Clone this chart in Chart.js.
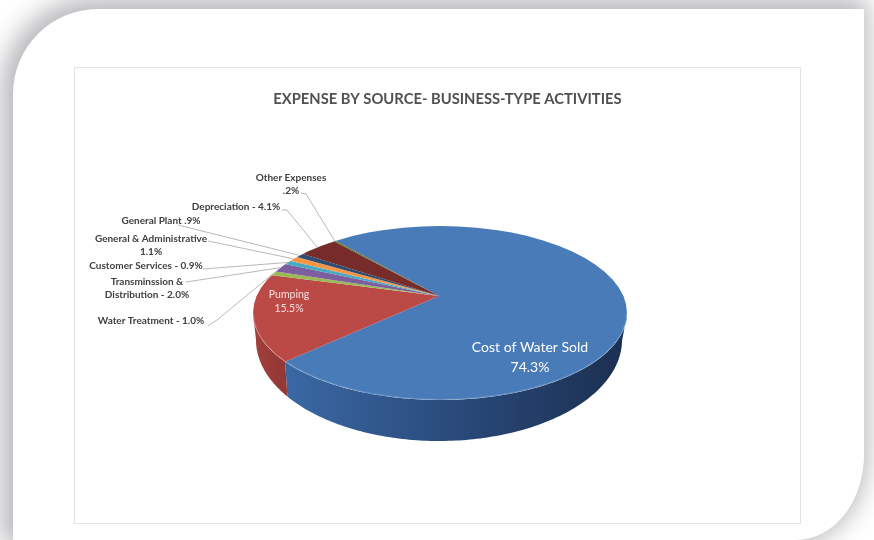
<!DOCTYPE html>
<html>
<head>
<meta charset="utf-8">
<title>Expense by Source</title>
<script src="https://cdn.jsdelivr.net/npm/chart.js@4"></script>
<style>
  html, body { margin: 0; padding: 0; background: #fff; overflow: hidden; }
  #page { position: relative; width: 874px; height: 540px; overflow: hidden; background: #fff; }
  #panel {
    position: absolute; left: 13px; top: 9px; width: 851px; height: 531px;
    background: #fff;
    border-radius: 85px 0 68px 0 / 85px 0 85px 0;
    box-shadow: -4px -3px 24px 8px rgba(100, 102, 108, 0.46);
  }
  #box { position: absolute; left: 74px; top: 67px; width: 725px; height: 455px; border: 1px solid #e4e4e4; }
  canvas { position: absolute; left: 0; top: 0; }
</style>
</head>
<body>
<div id="page">
  <div id="panel"></div>
  <div id="box"></div>
  <canvas id="expense-chart" width="874" height="540"></canvas>
</div>
<script>
// Valores do gráfico, no sentido horário a partir de "Cost of Water Sold"
const categories = ['Cost of Water Sold', 'Pumping', 'Water Treatment', 'Transmission & Distribution',
  'Customer Services', 'General & Administrative', 'General Plant', 'Depreciation', 'Other Expenses'];
const shares = [74.3, 15.5, 1.0, 2.0, 0.9, 1.1, 0.9, 4.1, 0.2];
const sliceColors = ['#487bb8', '#bb4a47', '#98b954', '#7d5fa0', '#46aac5', '#f79646', '#2c4d75', '#772c2a', '#5f7530'];
const chartTitle = 'EXPENSE BY SOURCE- BUSINESS-TYPE ACTIVITIES';

// Rótulos escritos como no gráfico original
const sliceText = [
  ['Cost of Water Sold', '74.3%'],
  ['Pumping', '15.5%'],
  ['Water Treatment - 1.0%'],
  ['Transminssion &', 'Distribution - 2.0%'],
  ['Customer Services - 0.9%'],
  ['General & Administrative', '1.1%'],
  ['General Plant .9%'],
  ['Depreciation - 4.1%'],
  ['Other Expenses', '.2%']
];

// Geometria em perspectiva: elipse do topo, elipse da base e vértice das fatias
const topRim = { x: 440, y: 313, rx: 187, ry: 87 };
const baseRim = { x: 439, y: 340, rx: 183, ry: 101 };
const apex = { x: 439, y: 296, sxUp: 187, syUp: 70, sxDown: 187, syDown: 104 };

// Posição dos rótulos: centro do texto e início da linha guia (com cotovelo opcional)
const labelPlaces = [
  { x: 530, y: 347, gap: 20, size: 14, color: '#fff', weight: 'normal' },
  { x: 289, y: 295, gap: 14, size: 10.5, color: '#f6dedd', weight: 'normal' },
  { x: 151, y: 321, from: [208, 326], elbow: [217, 320] },
  { x: 147, y: 282, gap: 13, from: [186, 282] },
  { x: 146, y: 266, from: [203, 269] },
  { x: 151, y: 239, gap: 13, from: [208, 241] },
  { x: 161, y: 221, from: [178, 225] },
  { x: 236, y: 207, from: [282, 210], elbow: [287, 210] },
  { x: 291, y: 178, gap: 13, from: [301, 193], elbow: [306, 194] }
];

// Ponto onde o raio da fatia, saindo do vértice, encontra a elipse do topo
function rimPoint(angle) {
  const s = Math.sin(angle);
  const dx = apex.sxUp * Math.cos(angle);
  const dy = (s < 0 ? apex.syUp : apex.syDown) * s;
  const ox = (apex.x - topRim.x) / topRim.rx, oy = (apex.y - topRim.y) / topRim.ry;
  const ux = dx / topRim.rx, uy = dy / topRim.ry;
  const a = ux * ux + uy * uy, b = 2 * (ox * ux + oy * uy), c = ox * ox + oy * oy - 1;
  const t = (-b + Math.sqrt(b * b - 4 * a * c)) / (2 * a);
  return { x: apex.x + t * dx, y: apex.y + t * dy };
}

// Ponto da base logo abaixo de um ponto da borda da frente
function basePoint(p) {
  const u = (p.x - topRim.x) / topRim.rx;
  return {
    x: baseRim.x + u * baseRim.rx,
    y: baseRim.y + baseRim.ry * Math.sqrt(Math.max(0, 1 - u * u))
  };
}

// Desenha as paredes visíveis da frente da pizza
function drawWalls(ctx, arcs) {
  const grad = {
    0: ctx.createLinearGradient(topRim.x - 150, 0, topRim.x + topRim.rx, 0),
    1: ctx.createLinearGradient(topRim.x - topRim.rx, 0, topRim.x - 150, 0)
  };
  grad[0].addColorStop(0, '#3a68a3');
  grad[0].addColorStop(0.4, '#2c4f82');
  grad[0].addColorStop(0.75, '#223c64');
  grad[0].addColorStop(1, '#1b2f50');
  grad[1].addColorStop(0, '#a33f3c');
  grad[1].addColorStop(1, '#8f3734');

  arcs.forEach((arc, i) => {
    if (!grad[i]) return;
    const rim = [];
    const n = 240;
    for (let j = 0; j <= n; j++) {
      const p = rimPoint(arc.startAngle + (arc.endAngle - arc.startAngle) * j / n);
      if (p.y >= topRim.y) rim.push(p);
    }
    if (rim.length < 2) return;

    ctx.beginPath();
    rim.forEach((p, j) => j === 0 ? ctx.moveTo(p.x, p.y) : ctx.lineTo(p.x, p.y));
    rim.slice().reverse().forEach(p => {
      const q = basePoint(p);
      ctx.lineTo(q.x, q.y);
    });
    ctx.closePath();
    ctx.fillStyle = grad[i];
    ctx.fill();
  });
}

// As fatias são os próprios arcos do Chart.js, achatados e recortados pela elipse
function drawFace(ctx, arcs, clipY, clipH, sx, sy) {
  const r = arcs[0].outerRadius, ox = arcs[0].x, oy = arcs[0].y;
  const over = 1.4;
  ctx.save();
  ctx.beginPath();
  ctx.rect(0, clipY, 874, clipH);
  ctx.clip();
  ctx.beginPath();
  ctx.ellipse(topRim.x, topRim.y, topRim.rx, topRim.ry, 0, 0, 2 * Math.PI);
  ctx.clip();
  ctx.translate(apex.x, apex.y);
  ctx.scale(over * sx / r, over * sy / r);
  ctx.translate(-ox, -oy);
  arcs.forEach(arc => arc.draw(ctx));
  ctx.restore();
}

const pie3d = {
  id: 'pie3d',
  beforeDatasetsDraw(chart) {
    const ctx = chart.ctx;
    const arcs = chart.getDatasetMeta(0).data;
    drawWalls(ctx, arcs);
    drawFace(ctx, arcs, 0, apex.y + 0.5, apex.sxUp, apex.syUp);
    drawFace(ctx, arcs, apex.y, 540 - apex.y, apex.sxDown, apex.syDown);

    // filete claro na aresta da frente
    ctx.beginPath();
    ctx.ellipse(topRim.x, topRim.y, topRim.rx - 0.5, topRim.ry - 0.5, 0, 0, Math.PI);
    ctx.strokeStyle = 'rgba(255,255,255,0.16)';
    ctx.lineWidth = 1.2;
    ctx.stroke();
    return false;
  },
  afterDraw(chart) {
    const ctx = chart.ctx;
    const arcs = chart.getDatasetMeta(0).data;
    ctx.save();
    ctx.textAlign = 'center';
    ctx.textBaseline = 'middle';
    arcs.forEach((arc, i) => {
      const place = labelPlaces[i];
      if (place.from) {
        const end = rimPoint((arc.startAngle + arc.endAngle) / 2);
        ctx.beginPath();
        ctx.moveTo(place.from[0], place.from[1]);
        if (place.elbow) ctx.lineTo(place.elbow[0], place.elbow[1]);
        ctx.lineTo(end.x, end.y);
        ctx.strokeStyle = '#a6a6a6';
        ctx.lineWidth = 0.8;
        ctx.stroke();
      }
      ctx.fillStyle = place.color || '#404040';
      ctx.font = (place.weight || 'bold') + ' ' + (place.size || 10) + 'px Lato, sans-serif';
      sliceText[i].forEach((line, n) => {
        ctx.fillText(line, place.x, place.y + n * (place.gap || 0));
      });
    });
    ctx.restore();
  }
};

const ctx = document.getElementById('expense-chart').getContext('2d');
new Chart(ctx, {
  type: 'pie',
  data: {
    labels: categories,
    datasets: [{
      data: shares,
      backgroundColor: sliceColors,
      borderWidth: 0
    }]
  },
  options: {
    responsive: false,
    animation: false,
    rotation: 325,
    layout: { padding: { left: 95, right: 74, top: 90, bottom: 20 } },
    plugins: {
      legend: { display: false },
      tooltip: { enabled: false },
      title: {
        display: true,
        text: chartTitle,
        fullSize: false,
        color: '#505050',
        font: { family: 'Lato, sans-serif', size: 14.75, weight: 'bold' },
        padding: 0
      }
    }
  },
  plugins: [pie3d]
});
</script>
</body>
</html>
